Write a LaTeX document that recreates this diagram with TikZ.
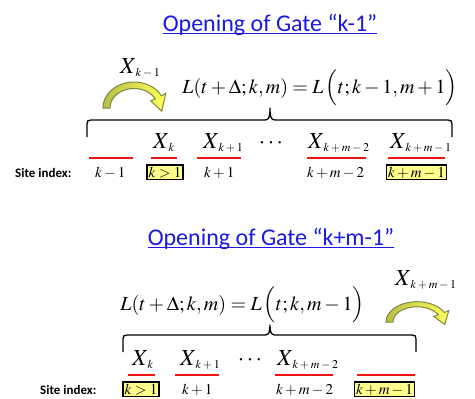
\documentclass[tikz,border=0pt]{standalone}
\usepackage{mathptmx}
\usepackage[no-math]{fontspec}
\setsansfont{Carlito}
\usepackage{tikz}
\usetikzlibrary{positioning}
\definecolor{gateblue}{RGB}{25,25,225}
\definecolor{sitered}{RGB}{240,20,20}
\definecolor{openfill}{RGB}{255,255,140}
\definecolor{bandedge}{RGB}{125,135,65}
\definecolor{bandleft}{RGB}{185,190,70}
\definecolor{bandright}{RGB}{255,255,90}

\newcommand{\xsite}[1]{$X_{\,\mbox{\fontsize{12}{14}\selectfont$#1$}}$}

\tikzset{
    gatetitle/.style={inner sep=0, text=gateblue, font=\sffamily\fontsize{24}{28}\selectfont},
    titleline/.style={gateblue, line width=1.2pt},
    eqn/.style={inner sep=0, font=\fontsize{20}{24}\selectfont},
    xlabel/.style={inner sep=0, font=\fontsize{23}{27}\selectfont},
    siteidx/.style={inner sep=0, font=\fontsize{15}{18}\selectfont},
    sitehead/.style={inner sep=0, font=\sffamily\bfseries\fontsize{13}{16}\selectfont},
    openbox/.style={siteidx, draw=black, line width=1.3pt, fill=openfill, inner sep=1.6pt},
    siteline/.style={sitered, line width=1.5pt},
    bracepath/.style={black, line width=1.3pt, line join=round},
    pics/gatearrow/.style={code={
        \draw[draw=bandedge, line width=1pt, left color=bandleft, right color=bandright]
            plot[domain=180:332, samples=30] ({31*cos(\x)}, {26*sin(\x)})
            -- (332:36 and 31) -- (8:28 and 23) -- (332:19 and 15)
            -- plot[domain=332:180, samples=30] ({24*cos(\x)}, {19.5*sin(\x)}) -- cycle;
    }}
}

\begin{document}
\begin{tikzpicture}[x=1pt, y=-1pt]
    \useasboundingbox (0,0) rectangle (475,399);

    % gate k-1
    \node[gatetitle, anchor=base] (title1) at (270,31) {Opening of Gate “k-1”};
    \draw[titleline] ([yshift=-2.5pt]title1.base west) -- ([yshift=-2.5pt]title1.base east);
    \node[xlabel, anchor=base west] (mover1) at (120,73) {\xsite{k-1}};
    \pic (arrow1) at (134,108) {gatearrow};
    \node[eqn, anchor=base] (eq1) at (320,93) {$L(t+\Delta;k,m)=L\,\Bigl(t;k-1,m+1\Bigr)$};
    \draw[bracepath] (87,137) -- (87,124) .. controls (87,121) and (88,120) .. (91,120)
        -- (265,120) .. controls (269,120) and (270,117) .. (270,108)
        .. controls (270,117) and (271,120) .. (275,120) -- (448,120)
        .. controls (451,120) and (452,121) .. (452,124) -- (452,137);

    \node[xlabel, anchor=base west] (xa1) at (153,148) {\xsite{k}};
    \node[xlabel, anchor=base west] (xb1) at (203,148) {\xsite{k+1}};
    \node[xlabel, anchor=base] (dots1) at (271,148) {$\cdots$};
    \node[xlabel, anchor=base west] (xc1) at (308,148) {\xsite{k+m-2}};
    \node[xlabel, anchor=base west] (xd1) at (390,148) {\xsite{k+m-1}};

    \foreach \a/\b in {89/133, 151/177, 197/241, 307/366, 388/445}
        \draw[siteline] (\a,158) -- (\b,158);

    \node[sitehead, anchor=base west] (head1) at (15,177) {Site index:};
    \node[siteidx, anchor=base west] (sa1) at (95,177) {$k-1$};
    \node[openbox, anchor=base] (sb1) at (165,177) {$k>1$};
    \node[siteidx, anchor=base west] (sc1) at (204,177) {$k+1$};
    \node[siteidx, anchor=base west] (sd1) at (307,177) {$k+m-2$};
    \node[openbox, anchor=base] (se1) at (416.5,177) {$k+m-1$};

    % gate k+m-1
    \node[gatetitle, anchor=base] (title2) at (271,245) {Opening of Gate “k+m-1”};
    \draw[titleline] ([yshift=-2.5pt]title2.base west) -- ([yshift=-2.5pt]title2.base east);
    \node[eqn, anchor=base] (eq2) at (242.5,310) {$L(t+\Delta;k,m)=L\,\Bigl(t;k,m-1\Bigr)$};
    \node[xlabel, anchor=base west] (mover2) at (395,285) {\xsite{k+m-1}};
    \pic[yscale=0.78] (arrow2) at (417,322) {gatearrow};
    \draw[bracepath] (123,352) -- (123,339) .. controls (123,336) and (124,335) .. (127,335)
        -- (265,335) .. controls (269,335) and (270,332) .. (270,325)
        .. controls (270,332) and (271,335) .. (275,335) -- (412,335)
        .. controls (415,335) and (416,336) .. (416,339) -- (416,352);

    \node[xlabel, anchor=base west] (xa2) at (132,365) {\xsite{k}};
    \node[xlabel, anchor=base west] (xb2) at (180,365) {\xsite{k+1}};
    \node[xlabel, anchor=base] (dots2) at (250,365) {$\cdots$};
    \node[xlabel, anchor=base west] (xc2) at (277,365) {\xsite{k+m-2}};

    \foreach \a/\b in {128/155, 175/219, 275/333, 357/415}
        \draw[siteline] (\a,375) -- (\b,375);

    \node[sitehead, anchor=base west] (head2) at (40,394) {Site index:};
    \node[openbox, anchor=base] (sb2) at (141,394) {$k>1$};
    \node[siteidx, anchor=base west] (sc2) at (182,394) {$k+1$};
    \node[siteidx, anchor=base west] (sd2) at (276,394) {$k+m-2$};
    \node[openbox, anchor=base] (se2) at (384.5,394) {$k+m-1$};
\end{tikzpicture}
\end{document}
